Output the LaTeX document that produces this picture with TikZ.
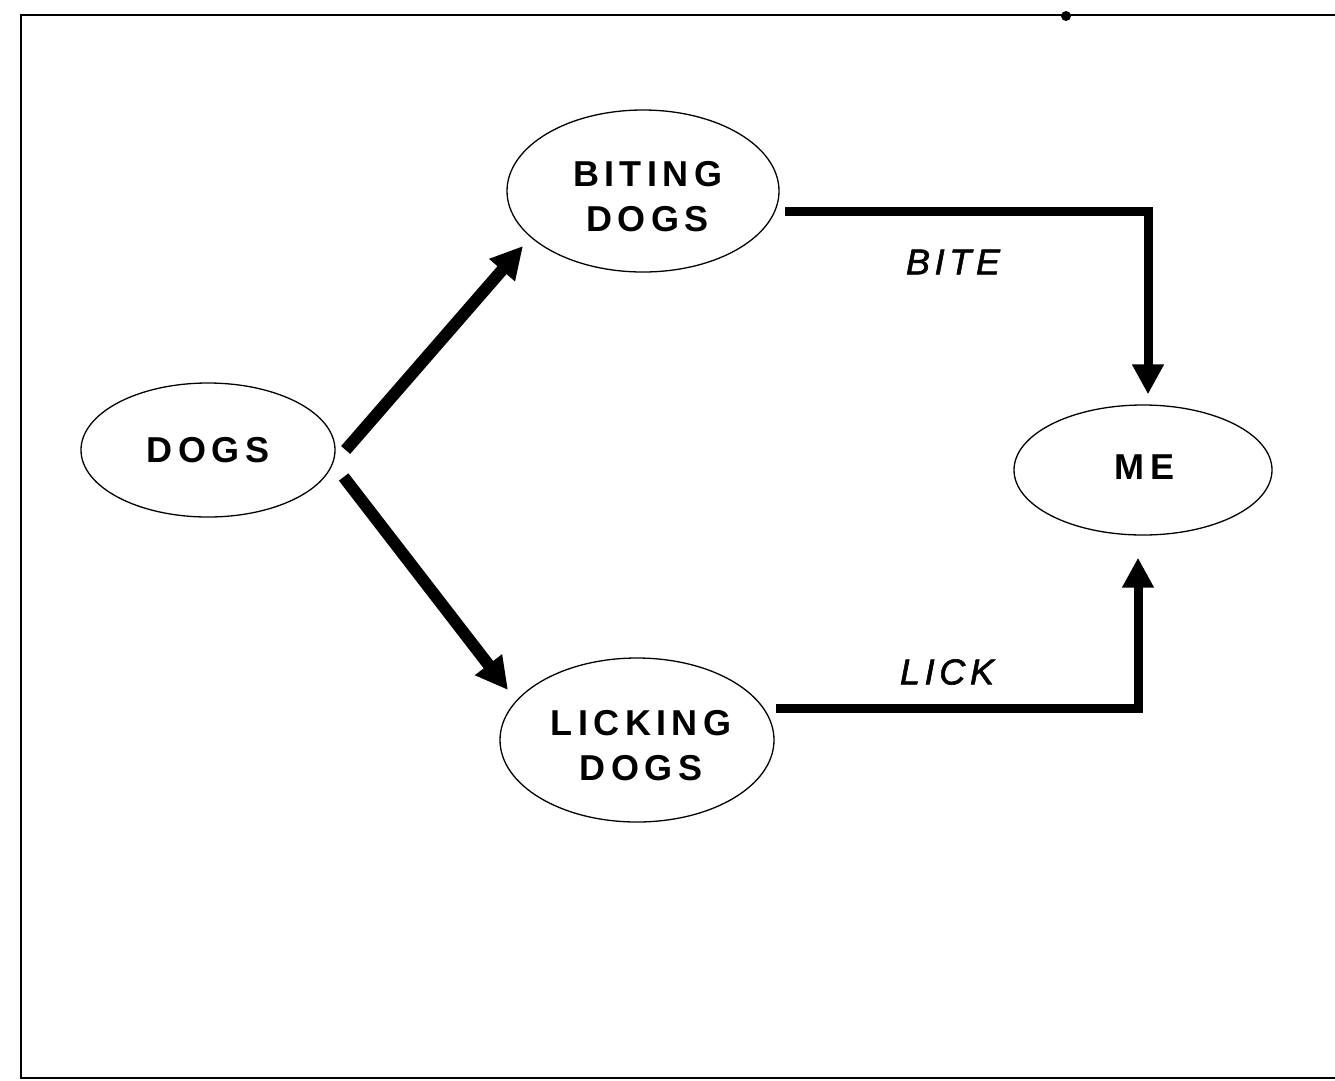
\documentclass[tikz,border=0pt]{standalone}
\usepackage{fontspec}
\setmainfont{Liberation Sans}
\newfontfamily\nodefont{Liberation Sans}[LetterSpace=15]
\newfontfamily\verbfont{Liberation Sans}[LetterSpace=13, FakeBold=1.6]
\usetikzlibrary{shapes.geometric,arrows.meta,calc}
% two centred lines; the strut in the first row sets the text a little lower
\newcommand{\twolines}[3]{\hspace*{#3}\begin{tabular}{@{}c@{}}\rule{0pt}{49.5pt}#1\\#2\end{tabular}}
\begin{document}
\begin{tikzpicture}[x=1pt,y=-1pt,
  blob/.style={draw, ellipse, line width=1.3pt, inner sep=0pt,
    font=\nodefont\bfseries\fontsize{36}{45}\selectfont},
  fat/.style={line width=12pt, -{Triangle[length=32pt,width=32pt]}},
  elbow/.style={line width=9pt, line join=miter, -{Triangle[length=30pt,width=30pt]}},
  verb/.style={font=\verbfont\itshape\fontsize{36}{40}\selectfont, inner sep=0pt}
]
\useasboundingbox (0,0) rectangle (1335,1080);

% page frame (open on the right)
\draw[line width=1.8pt] (1335,15) -- (21,15) -- (21,1078) -- (1335,1078);
\fill (1066,16) circle (5);

% nodes
\node[blob, minimum width=254pt, minimum height=134pt] (dogs) at (208,450) {DOGS};
\node[blob, minimum width=272pt, minimum height=162pt] (biting) at (643,191)
  {\twolines{BITING}{DOGS}{9pt}};
\node[blob, minimum width=274pt, minimum height=164pt] (licking) at (637,740)
  {\twolines{LICKING}{DOGS}{8pt}};
\node[blob, minimum width=258pt, minimum height=130pt] (me) at (1143,470)
  {\hspace*{3pt}ME\rule[-6pt]{0pt}{6pt}};

% connectors
\draw[fat] ($(dogs.east)+(10,0)$) -- ($(biting.center)+(-120,55)$);
\draw[fat] ($(dogs.east)+(8,27)$) -- ($(licking.center)+(-129,-50)$);
\draw[elbow] ($(biting.center)+(142,20)$) -| ($(me.north)+(5,-10)$);
\draw[elbow] ($(licking.center)+(139,-32)$) -| ($(me.south)+(-5,22)$);

% labels
\node[verb] (bite) at (953,262) {BITE};
\node[verb] (lick) at (947,672) {LICK};
\end{tikzpicture}
\end{document}
